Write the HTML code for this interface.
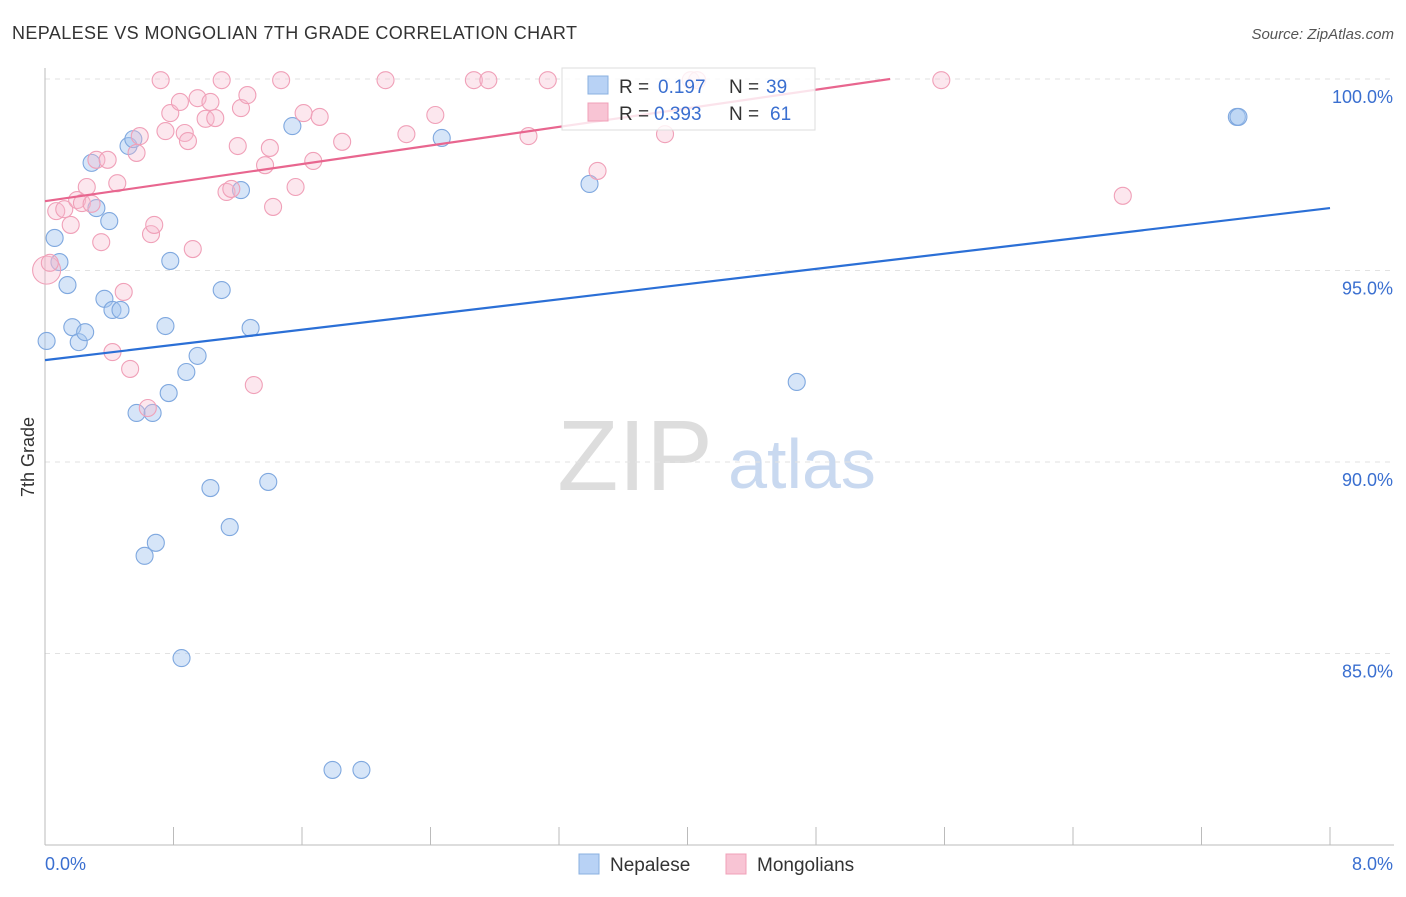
<!DOCTYPE html>
<html><head><meta charset="utf-8"><style>
body{margin:0;background:#fff;font-family:"Liberation Sans",sans-serif}
svg text{font-family:"Liberation Sans",sans-serif}
</style></head><body>
<svg id="c" width="1406" height="892" xmlns="http://www.w3.org/2000/svg">
<text x="12" y="39" font-size="18" fill="#333" textLength="565">NEPALESE VS MONGOLIAN 7TH GRADE CORRELATION CHART</text>
<text x="1394" y="39" font-size="15" fill="#555" font-style="italic" text-anchor="end">Source: ZipAtlas.com</text>
<text x="635" y="490" font-size="100" fill="#ddd" font-family="Liberation Serif" text-anchor="middle">ZIP</text>
<text x="802" y="488" font-size="70" fill="#c9d9f0" text-anchor="middle">atlas</text>
<text transform="translate(34,457) rotate(-90)" font-size="18" fill="#333" text-anchor="middle">7th Grade</text>
<g id="grid"></g><g id="pts"></g><g id="lines"></g>
<g>
<rect x="562" y="68" width="253" height="62" fill="#fff" fill-opacity="0.82" stroke="#ddd"/>
<rect x="588" y="76" width="20" height="18" fill="#b8d2f5" stroke="#8ab0e0"/>
<rect x="588" y="103" width="20" height="18" fill="#f8c4d4" stroke="#f0a0b8"/>
<text x="619" y="93" font-size="19" fill="#333">R = </text><text x="658" y="93" font-size="19" fill="#3a6fd0">0.197</text>
<text x="729" y="93" font-size="19" fill="#333">N = </text><text x="766" y="93" font-size="19" fill="#3a6fd0">39</text>
<text x="619" y="120" font-size="19" fill="#333">R = </text><text x="654" y="120" font-size="19" fill="#3a6fd0">0.393</text>
<text x="729" y="120" font-size="19" fill="#333">N = </text><text x="770" y="120" font-size="19" fill="#3a6fd0">61</text>
</g>
<g>
<rect x="579" y="854" width="20" height="20" fill="#b8d2f5" stroke="#8ab0e0"/>
<text x="610" y="871" font-size="19" fill="#333">Nepalese</text>
<rect x="726" y="854" width="20" height="20" fill="#f8c4d4" stroke="#f0a0b8"/>
<text x="757" y="871" font-size="19" fill="#333">Mongolians</text>
</g>
<text x="45" y="870" font-size="18" fill="#3a6fd0">0.0%</text>
<text x="1393" y="870" font-size="18" fill="#3a6fd0" text-anchor="end">8.0%</text>
</svg>
<script>
const yTicks=[100,95,90,85];
const yTickLabels=["100.0%","95.0%","90.0%","85.0%"];
const xTicks=[0,0.8,1.6,2.4,3.2,4,4.8,5.6,6.4,7.2,8];
const nepX=[0.01,0.06,0.09,0.14,0.17,0.21,0.25,0.29,0.32,0.37,0.40,0.42,0.47,0.52,0.55,0.57,0.62,0.67,0.69,0.75,0.77,0.78,0.85,0.88,0.95,1.03,1.10,1.15,1.22,1.28,1.39,1.54,1.79,1.97,2.47,3.39,4.68,7.42,7.43];
const nepY=[93.16,95.85,95.22,94.62,93.52,93.13,93.39,97.81,96.63,94.26,96.29,93.97,93.97,98.25,98.43,91.28,87.55,91.28,87.89,93.55,91.8,95.25,84.88,92.35,92.77,89.32,94.49,88.3,97.1,93.5,89.48,98.77,81.96,81.96,98.46,97.26,92.09,99.01,99.01];
const monX=[0.01,0.03,0.07,0.12,0.16,0.20,0.23,0.26,0.29,0.32,0.35,0.39,0.42,0.45,0.49,0.53,0.57,0.59,0.64,0.66,0.68,0.72,0.75,0.78,0.84,0.87,0.89,0.92,0.95,1.00,1.03,1.06,1.10,1.13,1.16,1.20,1.22,1.26,1.30,1.37,1.40,1.42,1.47,1.56,1.61,1.67,1.71,1.85,2.12,2.25,2.43,2.67,2.76,3.01,3.13,3.44,3.86,4.02,4.06,5.58,6.71];
const monY=[95.01,95.2,96.55,96.6,96.19,96.84,96.76,97.18,96.74,97.89,95.74,97.89,92.87,97.28,94.44,92.43,98.07,98.51,91.41,95.95,96.19,99.97,98.64,99.11,99.4,98.59,98.38,95.56,99.5,98.96,99.4,98.98,99.97,97.05,97.13,98.25,99.24,99.58,92.01,97.75,98.2,96.66,99.97,97.18,99.11,97.86,99.01,98.36,99.97,98.56,99.06,99.97,99.97,98.51,99.97,97.6,98.56,99.97,99.97,99.97,96.95];
const nepTrend=[92.66,96.63];
const monTrend=[96.81,101.66];
const NS="http://www.w3.org/2000/svg";
const X=v=>45+v*1285/8, Y=v=>79+(100-v)*38.3;
function mk(t,a,p){const e=document.createElementNS(NS,t);for(const k in a)e.setAttribute(k,a[k]);p.appendChild(e);return e;}
const g=document.getElementById('grid');
yTicks.forEach((t,i)=>{
 const l=mk('line',{x1:45,x2:1394,y1:Y(t),y2:Y(t),stroke:'#e2e2e2','stroke-dasharray':'5,5'},g);
 
 
 const tx=mk('text',{x:1393,y:Y(t)+24,'font-size':18,fill:'#3a6fd0','text-anchor':'end'},g);tx.textContent=yTickLabels[i];
 
 
});
const ax=mk('line',{x1:45,x2:45,y1:68,y2:845,stroke:'#bbb'},g);


const bx=mk('line',{x1:45,x2:1394,y1:845,y2:845,stroke:'#bbb'},g);


xTicks.forEach(t=>{const l=mk('line',{x1:X(t),x2:X(t),y1:827,y2:845,stroke:'#bbb'},g);
 
 });
const p=document.getElementById('pts');
nepX.forEach((x,i)=>{const c=mk('circle',{cx:X(x),cy:Y(nepY[i]),r:8.5,fill:'rgba(165,198,240,0.45)',stroke:'#7fa8df','stroke-width':1.1},p);
 
 });
monX.forEach((x,i)=>{const c=mk('circle',{cx:X(x),cy:Y(monY[i]),r:i==0?14:8.5,fill:'rgba(245,185,205,0.35)',stroke:'#f0a0b8','stroke-width':1.1},p);
 
 });
const L=document.getElementById('lines');
function trend(tr,col,name){let x2=8,y2=tr[1];if(y2>100){x2=8*(100-tr[0])/(tr[1]-tr[0]);y2=100;}
 const l=mk('line',{x1:X(0),y1:Y(tr[0]),x2:X(x2),y2:Y(y2),stroke:col,'stroke-width':2.2},L);
 
 }
trend(nepTrend,'#2b6fd6','nepalese-trendline');
trend(monTrend,'#e8668f','mongolian-trendline');
</script>
</body></html>
